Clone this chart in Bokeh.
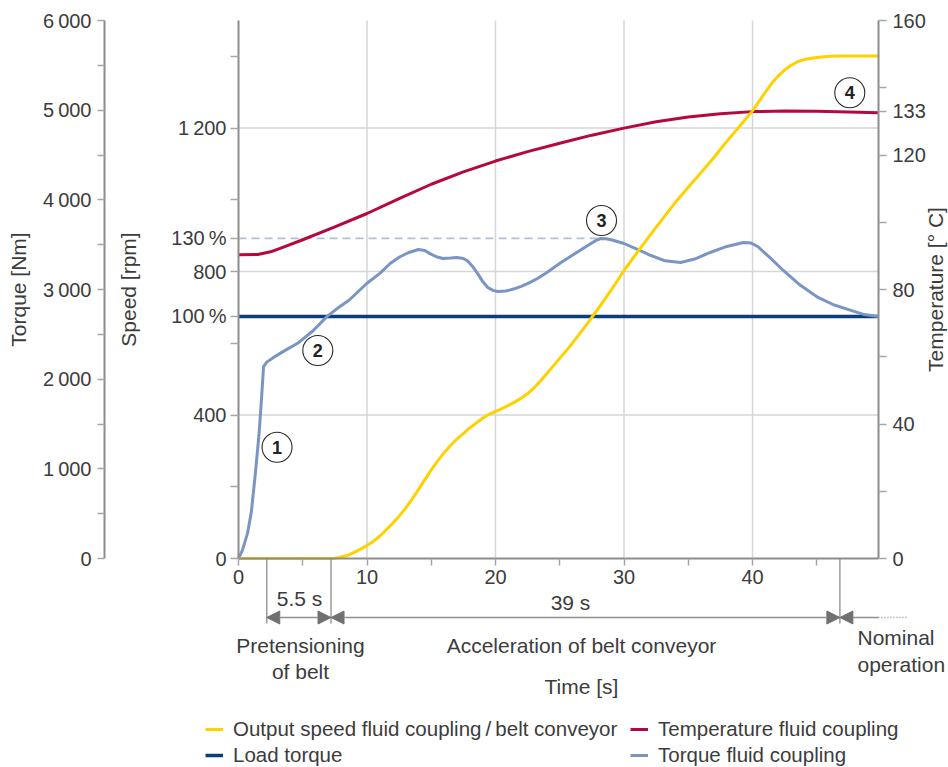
import math
from bokeh.plotting import figure
from bokeh.models import (Range1d, LinearAxis, FixedTicker, ColumnDataSource,
                          Arrow, NormalHead, Legend, LegendItem, Grid)
from bokeh.core.properties import value
from bokeh.embed import file_html
from bokeh.resources import INLINE

TS = "\u2009"  # thin space used in the numbers

# ---------------- data ----------------
time_ticks = [0, 10, 20, 30, 40]
time_minor_ticks = [5, 15, 25, 35, 45]
time_end = 49.8

torque_ticks = [0, 1000, 2000, 3000, 4000, 5000, 6000]
torque_tick_labels = ["0", "1" + TS + "000", "2" + TS + "000", "3" + TS + "000",
                      "4" + TS + "000", "5" + TS + "000", "6" + TS + "000"]
torque_minor_ticks = [500, 1500, 2500, 3500, 4500, 5500]

speed_ticks = [0, 400, 800, 1200]
speed_tick_labels = ["0", "400", "800", "1" + TS + "200"]
speed_minor_ticks = [200, 600, 1000, 1400]

load_pct_labels = ["100" + TS + "%", "130" + TS + "%"]
load_pct_torque = [2700, 3570]          # Nm

temp_ticks = [0, 40, 80, 120, 133, 160]
temp_minor_ticks = [20, 60, 100, 140]

speed_time = [0, 7.4, 8.0, 8.5, 9.0, 9.5, 10.0, 10.5, 11.0, 11.5, 12.0, 12.5, 13.0,
              13.5, 14.0, 14.5, 15.0, 15.5, 16.0, 16.5, 17.0, 17.5, 18.0, 18.5, 19.0,
              19.5, 20.0, 20.5, 21.0, 21.5, 22.0, 22.5, 23.0, 23.5, 24.0, 24.5, 25.0,
              25.5, 26.0, 27.0, 28.0, 29.0, 30.0,
              31.0, 32.0, 33.0, 34.0, 35.0, 36.0, 37.0, 38.0, 39.0, 40.0, 41.0, 41.5,
              42.0, 42.5, 43.0, 43.5, 44.0, 45.0, 46.0, 47.0, 49.8]
speed_rpm = [0, 0, 4, 9, 17, 26, 36, 48, 62, 80, 98, 118, 140,
             165, 192, 220, 247, 272, 295, 315, 333, 348, 364, 378, 391,
             402, 410, 418, 427, 436, 447, 460, 476, 495, 516, 537, 558,
             579, 601, 648, 697, 748, 803,
             852, 900, 947, 993, 1035, 1076, 1118, 1163, 1205, 1248, 1300, 1325,
             1345, 1362, 1375, 1385, 1391, 1397, 1400, 1401, 1401]

temp_time = [0, 1.5, 2.5, 3.5, 5.0, 7.5, 10.0, 12.5, 15.0, 17.5, 20.0, 22.5, 25.0,
             27.5, 30.0, 32.5, 35.0, 37.5, 40.0, 42.5, 45.0, 47.5, 49.8]
temp_degc = [90.3, 90.4, 91.2, 92.6, 94.8, 98.6, 102.6, 107.0, 111.3, 115.0, 118.2,
             121.0, 123.5, 125.9, 128.0, 129.9, 131.3, 132.3, 132.9, 133.1, 133.0,
             132.8, 132.6]

torque_time = [0, 0.3, 0.7, 1.0, 1.3, 1.6, 1.8, 1.95, 2.2, 2.7, 3.5, 4.6, 5.8, 6.9,
               7.7, 8.6, 10.0, 11.0, 11.8, 12.5, 13.2, 14.0, 14.5, 14.9, 15.4, 15.9,
               16.5, 17.0, 17.5, 17.8, 18.2, 18.6, 19.0, 19.4, 19.8, 20.2, 20.8, 21.4,
               22.0, 22.7, 23.3, 24.0, 24.6, 25.1, 25.8, 26.5, 27.4, 27.8, 28.2, 28.6,
               29.0, 30.0, 31.0, 32.1,
               33.2, 34.4, 35.5, 36.7, 38.0, 39.3, 39.9, 40.4, 41.4, 42.4, 43.7, 45.1,
               46.3, 47.6, 48.7, 49.8]
torque_nm = [0, 90, 280, 520, 930, 1390, 1800, 2140, 2190, 2240, 2310, 2400, 2540, 2700,
             2790, 2880, 3070, 3180, 3290, 3360, 3410, 3446, 3435, 3400, 3365, 3346,
             3350, 3357, 3345, 3323, 3260, 3180, 3090, 3022, 2990, 2978, 2983, 3005,
             3035, 3080, 3125, 3190, 3250, 3300, 3365, 3430, 3510, 3545, 3569, 3566,
             3555, 3513, 3450, 3379,
             3320, 3301, 3340, 3413, 3480, 3524, 3518, 3480, 3350, 3212, 3050, 2911,
             2830, 2770, 2720, 2700]

load_time = [0, 49.8]
load_nm = [2700, 2700]
limit_time = [0, 28.2]
limit_nm = [3570, 3570]

phase_bounds = [2.2, 7.2, 46.8]
phase_durations = ["5.5 s", "39 s"]

marker_time = [3.0, 6.17, 28.25, 47.57]
marker_nm = [1240, 2320, 3770, 5195]
marker_text = ["1", "2", "3", "4"]

# ---------------- layout constants ----------------
CW, CH = 948, 767
X0, PXS = 238.0, 12.85      # canvas x of t=0, px per second
Y0, YTOP = 558.0, 20.0      # canvas y of value 0 and of full scale
K = (Y0 - YTOP) / 6000.0    # px per Nm
SPEED_F = 1500.0 / 6000.0
TEMP_F = 160.0 / 6000.0

def tx(ix):   # canvas x -> time
    return (ix - X0) / PXS

def ty(iy):   # canvas y -> Nm
    return (Y0 - iy) / K

FONT = "Liberation Sans"
TEXT = "#3c3c3c"
AXIS = "#8c8c8c"
TICK = "#a6a6a6"
GRID = "#d6d6d6"
YELLOW = "#FFD100"
RED = "#B5093E"
NAVY = "#0B3F7C"
LBLUE = "#7A95C3"
DASH = "#AEBEDD"
DIM = "#8f8f8f"
HEAD = "#707070"

y0, y1 = -(CH - Y0) / K, Y0 / K
p = figure(width=CW, height=CH, x_range=Range1d(-X0 / PXS, (CW - X0) / PXS),
           y_range=Range1d(y0, y1), x_axis_location=None, y_axis_location=None,
           output_backend="svg", toolbar_location=None, min_border=0,
           outline_line_color=None, title=None)
p.extra_y_ranges = {"speed": Range1d(y0 * SPEED_F, y1 * SPEED_F),
                    "temp": Range1d(y0 * TEMP_F, y1 * TEMP_F)}
p.center = [r for r in p.center if not isinstance(r, Grid)]
p.background_fill_color = "white"
p.border_fill_color = "white"


def style_axis(ax, tick_out, standoff):
    ax.axis_line_color = AXIS
    ax.axis_line_width = 2
    ax.major_tick_line_color = TICK
    ax.minor_tick_line_color = TICK
    ax.major_tick_line_width = 1.5
    ax.minor_tick_line_width = 1.5
    ax.major_tick_in = 0
    ax.minor_tick_in = 0
    ax.major_tick_out = tick_out
    ax.minor_tick_out = tick_out
    ax.major_label_text_font = FONT
    ax.major_label_text_font_size = "20px"
    ax.major_label_text_color = TEXT
    ax.major_label_standoff = standoff


ax_time = LinearAxis(fixed_location=0, bounds=(0, time_end),
                     ticker=FixedTicker(ticks=time_ticks, minor_ticks=time_minor_ticks))
style_axis(ax_time, 7, 4)
p.add_layout(ax_time, "below")

pct_speed = [v * SPEED_F for v in load_pct_torque]
speed_over = {t: l for t, l in zip(speed_ticks, speed_tick_labels)}
speed_over.update({t: l for t, l in zip(pct_speed, load_pct_labels)})
ax_speed = LinearAxis(y_range_name="speed", fixed_location=0, bounds=(0, 1500),
                      ticker=FixedTicker(ticks=speed_ticks + pct_speed,
                                         minor_ticks=speed_minor_ticks),
                      major_label_overrides=speed_over)
style_axis(ax_speed, 8, 4)
p.add_layout(ax_speed, "left")

ax_torque = LinearAxis(fixed_location=tx(104), bounds=(0, 6000),
                       ticker=FixedTicker(ticks=torque_ticks, minor_ticks=torque_minor_ticks),
                       major_label_overrides={t: l for t, l in zip(torque_ticks, torque_tick_labels)})
style_axis(ax_torque, 7, 6)
p.add_layout(ax_torque, "left")

ax_temp = LinearAxis(y_range_name="temp", fixed_location=time_end, bounds=(0, 160),
                     ticker=FixedTicker(ticks=temp_ticks, minor_ticks=temp_minor_ticks))
style_axis(ax_temp, 8, 6)
p.add_layout(ax_temp, "right")

# grid lines
gx = time_ticks[1:]
p.segment(x0=gx, y0=[0] * len(gx), x1=gx, y1=[6000] * len(gx), line_color=GRID, line_width=1.5)
gy = speed_ticks[1:]
p.segment(x0=[0] * len(gy), y0=gy, x1=[time_end] * len(gy), y1=gy, y_range_name="speed",
          line_color=GRID, line_width=1.5)

# curves
p.line(limit_time, limit_nm, line_color=DASH, line_width=1.6, line_dash="8 5")
r_load = p.line(load_time, load_nm, line_color=NAVY, line_width=3.5)
r_temp = p.line(temp_time, temp_degc, y_range_name="temp", line_color=RED, line_width=3,
                line_join="round")
r_torque = p.line(torque_time, torque_nm, line_color=LBLUE, line_width=3, line_join="round")
r_speed = p.line(speed_time, speed_rpm, y_range_name="speed", line_color=YELLOW, line_width=3,
                 line_join="round")

# circled numbers
p.scatter(marker_time, marker_nm, marker="circle", size=30, fill_color="white",
          line_color="#2a2a2a", line_width=1.1)
p.text(marker_time, marker_nm, text=marker_text, text_align="center", text_baseline="middle",
       text_font=value(FONT), text_font_size=value("18px"), text_font_style="bold",
       text_color="#222222")

# dimension lines
p.segment(x0=phase_bounds, y0=[0] * 3, x1=phase_bounds, y1=[ty(623)] * 3,
          line_color="#9c9c9c", line_width=1.5)
yA = ty(617)
src = ColumnDataSource(dict(x0=phase_bounds[:-1], x1=phase_bounds[1:], y=[yA, yA]))
p.add_layout(Arrow(start=NormalHead(size=13, fill_color=HEAD, line_color=HEAD),
                   end=NormalHead(size=13, fill_color=HEAD, line_color=HEAD),
                   x_start="x0", y_start="y", x_end="x1", y_end="y", source=src,
                   line_color=DIM, line_width=1.5))
p.add_layout(Arrow(start=NormalHead(size=13, fill_color=HEAD, line_color=HEAD), end=None,
                   x_start=phase_bounds[-1], y_start=yA, x_end=time_end, y_end=yA,
                   line_color=DIM, line_width=1.5))
p.line([time_end, tx(906)], [yA, yA], line_color=DIM, line_width=1.5, line_dash="1 2")

tf = dict(text_font=value(FONT), text_font_size=value("21px"), text_color=TEXT,
          text_baseline="middle")
p.text([tx(299), tx(570)], [ty(598), ty(602)], text=phase_durations, text_align="center", **tf)
p.text([tx(300), tx(300), tx(581), tx(581)], [ty(645), ty(671), ty(645), ty(686)],
       text=["Pretensioning", "of belt", "Acceleration of belt conveyor", "Time [s]"],
       text_align="center", **tf)
p.text([tx(857), tx(857)], [ty(637), ty(664)], text=["Nominal", "operation"],
       text_align="left", **tf)

# axis titles
p.text([tx(18), tx(128)], [ty(289), ty(289)], text=["Torque [Nm]", "Speed [rpm]"],
       angle=math.pi / 2, text_align="center", **tf)
p.text([tx(935)], [ty(289)], text=["Temperature [° C]"], angle=math.pi / 2,
       text_align="center", **tf)

# legends
def make_legend(items, x):
    return Legend(items=items, location=(x, 0), orientation="vertical",
                  glyph_width=18, glyph_height=20, label_standoff=10, spacing=2,
                  padding=0, margin=0, border_line_alpha=0, background_fill_alpha=0,
                  label_text_font=FONT, label_text_font_size="20.5px",
                  label_text_color=TEXT, label_height=20)

p.add_layout(make_legend([LegendItem(label="Output speed fluid coupling" + TS + "/" + TS + "belt conveyor",
                                     renderers=[r_speed]),
                          LegendItem(label="Load torque", renderers=[r_load])], 205))
p.add_layout(make_legend([LegendItem(label="Temperature fluid coupling", renderers=[r_temp]),
                          LegendItem(label="Torque fluid coupling", renderers=[r_torque])], 630))

open("out.html", "w").write(file_html(p, INLINE))
